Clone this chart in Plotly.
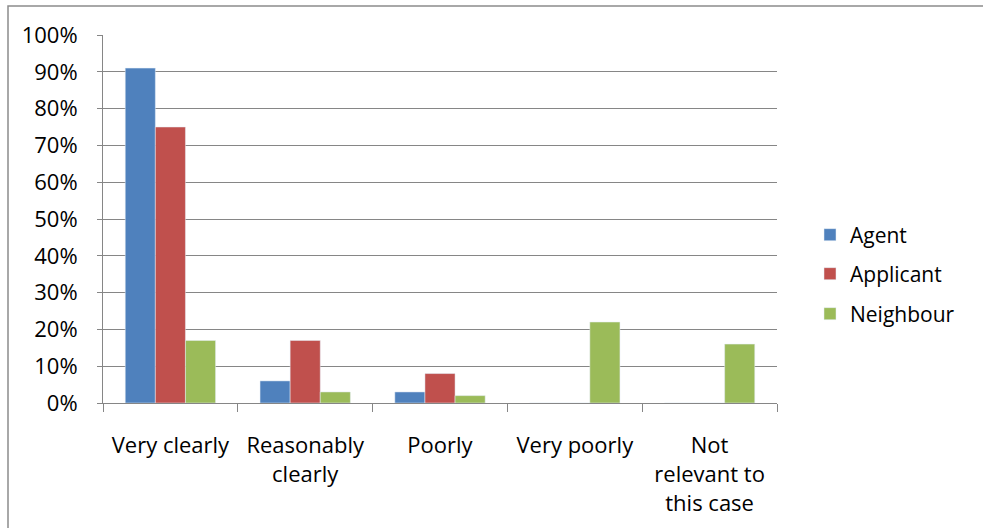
import plotly.graph_objects as go

# Survey results: how clearly the decision was explained, by respondent group
categories = ["Very clearly", "Reasonably<br>clearly", "Poorly", "Very poorly",
              "Not<br>relevant to<br>this case"]
agent = [0.91, 0.06, 0.03, 0.0, 0.0]
applicant = [0.75, 0.17, 0.08, 0.0, 0.0]
neighbour = [0.17, 0.03, 0.02, 0.22, 0.16]
y_ticks = [0.0, 0.1, 0.2, 0.3, 0.4, 0.5, 0.6, 0.7, 0.8, 0.9, 1.0]

W, H = 983, 528
L, R, T, B = 103, 206, 35, 125
GRID = "#868686"
FONT = "Open Sans, Noto Sans, sans-serif"

plot_w = W - L - R
plot_h = H - T - B


def px_x(px):
    return (px - L) / plot_w


def px_y(py):
    return ((H - B) - py) / plot_h


series = [
    ("Agent", agent, "#4F81BD", "legend", 235),
    ("Applicant", applicant, "#C0504D", "legend2", 274),
    ("Neighbour", neighbour, "#9BBB59", "legend3", 314),
]

fig = go.Figure()
legends = {}
for name, vals, color, leg, ypix in series:
    fig.add_trace(go.Bar(name=name, x=categories, y=vals, marker_color=color,
                         legend=leg))
    legends[leg] = dict(
        x=px_x(810), xanchor="left",
        y=px_y(ypix), yanchor="middle",
        font=dict(size=21, family=FONT, color="#000000"),
        bgcolor="rgba(0,0,0,0)",
    )

fig.update_layout(
    width=W, height=H,
    margin=dict(l=L, r=R, t=T, b=B, pad=0),
    paper_bgcolor="white", plot_bgcolor="white",
    barmode="group", bargap=0.33, bargroupgap=0,
    font=dict(family=FONT, color="#000000"),
    showlegend=True,
    xaxis=dict(
        showline=True, linecolor=GRID, linewidth=1,
        ticks="outside", ticklen=8, tickcolor=GRID, tickwidth=1,
        tickson="boundaries",
        showgrid=False,
        tickfont=dict(size=22, family=FONT, color="#000000"),
        ticklabelstandoff=23,
    ),
    yaxis=dict(
        range=[0, 1], tickvals=y_ticks, tickformat=".0%",
        showline=True, linecolor=GRID, linewidth=1,
        ticks="outside", ticklen=5, tickcolor=GRID, tickwidth=1,
        showgrid=True, gridcolor=GRID, gridwidth=1,
        zeroline=False,
        tickfont=dict(size=22, family=FONT, color="#000000"),
        ticklabelstandoff=15,
    ),
    **legends,
)

# Outer chart border (left and top edges fall inside the page)
fig.add_shape(
    type="rect", xref="paper", yref="paper",
    x0=px_x(8), x1=px_x(W + 20),
    y0=px_y(H + 20), y1=px_y(6),
    line=dict(color="#8C8C8C", width=1.5), fillcolor="rgba(0,0,0,0)",
    layer="below",
)

fig.write_html("out.html", config={"displayModeBar": False})
